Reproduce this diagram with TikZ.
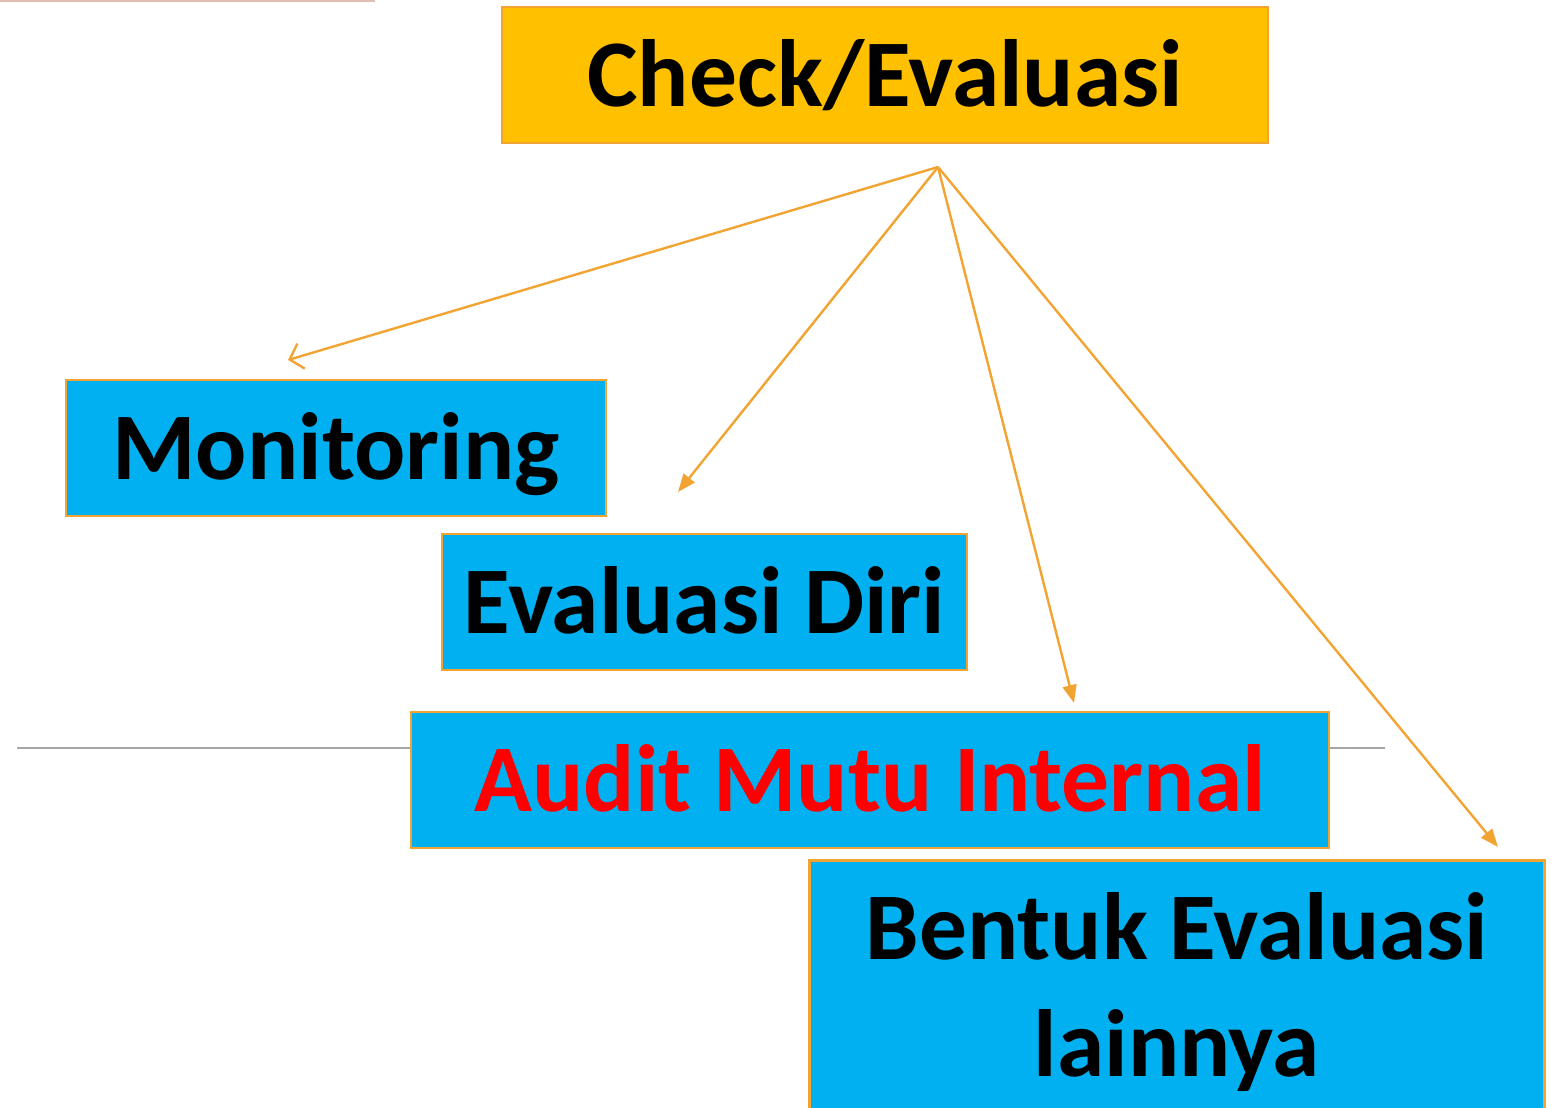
\documentclass[tikz,border=0pt]{standalone}
\usepackage{fontspec}
\setmainfont{Carlito}
\usepackage{xcolor}
\usetikzlibrary{arrows.meta, positioning}
\definecolor{gold}{HTML}{FFC000}
\definecolor{skyb}{HTML}{00B0F0}
\definecolor{orln}{HTML}{F2A433}
\definecolor{grln}{HTML}{A6A6A6}
\definecolor{pkln}{HTML}{DFC0B3}

\begin{document}
\begin{tikzpicture}[x=1pt,y=-1pt]
\tikzset{
  bx/.style={rectangle,draw=orln,line width=2.5pt,fill=skyb,minimum height=136pt,inner sep=0pt,
    font=\fontsize{95.5}{117}\selectfont\bfseries,text height=73pt,text depth=10pt,align=center},
  ar/.style={-{Triangle[length=18pt,width=14pt]},line width=2.4pt,draw=orln},
  arb/.style={-{Straight Barb[length=12pt,width=26pt,line width=2.4pt]},line width=2.4pt,draw=orln}
}
\useasboundingbox (0,0) rectangle (1555,1108);
% guide lines from the slide
\draw[pkln,line width=2pt] (0,1) -- (375,1);
\draw[grln,line width=2pt] (17,748) -- (1385,748);
% boxes
\node[bx,fill=gold,minimum width=766pt] (chk) at (885,75) {Check/Evaluasi};
\node[bx,minimum width=540pt] (mon) at (336,448) {Monitoring};
\node[bx,minimum width=525pt] (evd) at (704.5,602) {Evaluasi Diri};
\node[bx,minimum width=918pt,text=red] (ami) at (870,780) {Audit Mutu Internal};
\node[bx,minimum width=735pt,minimum height=264pt,text height=,text depth=,anchor=north west] (bel) at (808,859) {Bentuk Evaluasi\\lainnya};
% arrows
\coordinate (src) at (938,167);
\coordinate (tmon) at (288,360);
\coordinate (tevd) at (678,492);
\coordinate (tami) at (1074,703);
\coordinate (tbel) at (1498,847);
\draw[arb] (src) -- (tmon);
\foreach \t in {tevd,tami,tbel}{\draw[ar] (src) -- (\t);}
\end{tikzpicture}
\end{document}
